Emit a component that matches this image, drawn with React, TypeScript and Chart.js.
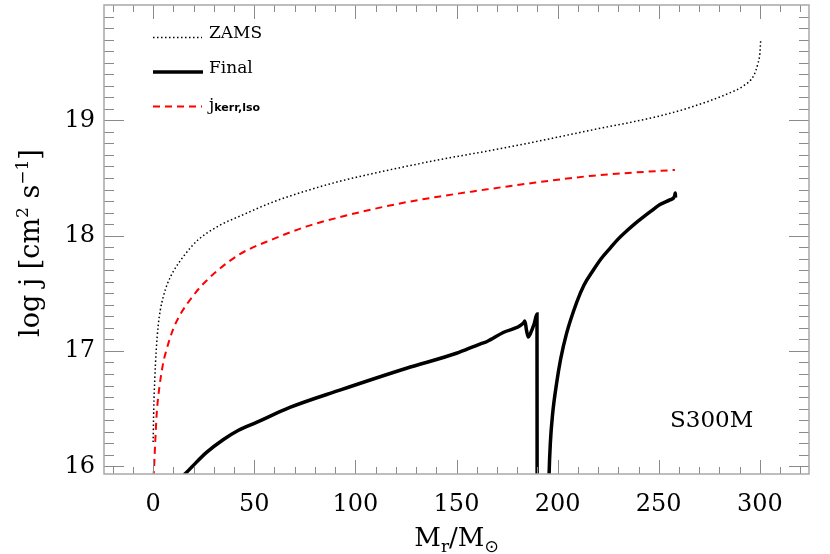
import React, { useEffect, useRef } from 'react';
import { Chart, registerables } from 'chart.js';

Chart.register(...registerables);

// ---- data ----
const zamsMass = [0, 0.3, 0.8, 1.5, 2.5, 3.5, 5, 7, 10, 15, 22, 33, 43, 59, 76, 92, 109, 125, 142, 161, 185, 218, 251, 267, 284, 292, 297, 299, 300, 300.4];
const zamsLogJ = [16.21, 16.5, 16.75, 17.0, 17.22, 17.35, 17.47, 17.58, 17.69, 17.82, 17.96, 18.09, 18.17, 18.29, 18.39, 18.47, 18.54, 18.6, 18.66, 18.72, 18.8, 18.92, 19.04, 19.12, 19.23, 19.3, 19.39, 19.49, 19.58, 19.69];

const kerrMass = [0.0, 0.3, 1.0, 1.7, 2.5, 4.9, 6.6, 9.9, 13.2, 18.1, 23.1, 26.4, 31.3, 42.9, 59.3, 75.9, 92.3, 108.8, 125.3, 141.8, 160.7, 184.7, 217.6, 258];
const kerrLogJ = [15.9, 15.94, 16.2, 16.44, 16.6, 16.89, 17.01, 17.19, 17.31, 17.44, 17.55, 17.61, 17.69, 17.84, 17.97, 18.08, 18.16, 18.23, 18.29, 18.34, 18.39, 18.45, 18.52, 18.57];

const finalMass = [14.0, 20, 26.4, 34.6, 42, 51.1, 67.6, 92.3, 125.3, 150, 161.6, 164.9, 173.1, 183.0, 183.8, 184.6, 185.5, 186.5, 188.5, 189.8, 189.9, 190, 195.3, 195.8, 196.4, 197.5, 199.5, 201.5, 204.4, 209.4, 213, 217.6, 221.5, 225.9, 229.9, 234.1, 238, 242.3, 246, 250.6, 255.5, 257.8, 258.2, 258.3];
const finalLogJ = [15.9, 16.01, 16.12, 16.23, 16.31, 16.38, 16.51, 16.66, 16.85, 16.98, 17.06, 17.08, 17.16, 17.24, 17.26, 17.18, 17.12, 17.15, 17.24, 17.32, 15.0, null, 15.5, 15.94, 16.2, 16.45, 16.72, 16.93, 17.15, 17.42, 17.57, 17.7, 17.8, 17.89, 17.97, 18.04, 18.1, 18.16, 18.21, 18.27, 18.31, 18.34, 18.37, 18.33];

const xTickLabels = [0, 50, 100, 150, 200, 250, 300];
const yTickLabels = [16, 17, 18, 19];

const X_MIN = -24.3;
const X_MAX = 324.3;
const Y_MIN = 15.933;
const Y_MAX = 20.0;

const SERIF = '"DejaVu Serif", serif';

function pts(xs: number[], ys: (number | null)[]) {
  return xs.map((x, i) => ({ x, y: ys[i] }));
}

type Seg = { t: string; size: number; dy?: number; font?: string; weight?: string };

function richWidth(ctx: CanvasRenderingContext2D, segs: Seg[]) {
  let w = 0;
  for (const s of segs) {
    ctx.font = `${s.weight || 'normal'} ${s.size}px ${s.font || SERIF}`;
    w += ctx.measureText(s.t).width;
  }
  return w;
}

function drawRich(ctx: CanvasRenderingContext2D, segs: Seg[], x: number, y: number, align: 'left' | 'center') {
  let cx = align === 'center' ? x - richWidth(ctx, segs) / 2 : x;
  ctx.textAlign = 'left';
  ctx.textBaseline = 'alphabetic';
  for (const s of segs) {
    ctx.font = `${s.weight || 'normal'} ${s.size}px ${s.font || SERIF}`;
    ctx.fillText(s.t, cx, y + (s.dy || 0));
    cx += ctx.measureText(s.t).width;
  }
}

const decorPlugin = {
  id: 'decor',
  afterDraw(chart: any) {
    const ctx: CanvasRenderingContext2D = chart.ctx;
    const { left, right, top, bottom } = chart.chartArea;
    const xs = chart.scales.x;
    const ys = chart.scales.y;
    ctx.save();

    // ticks (inward, mirrored)
    ctx.strokeStyle = '#8a8a8a';
    ctx.lineWidth = 1;
    ctx.beginPath();
    for (let v = -20; v <= 320; v += 10) {
      const px = Math.round(xs.getPixelForValue(v)) + 0.5;
      const len = v % 50 === 0 && v >= 0 && v <= 300 ? 14 : 7;
      ctx.moveTo(px, bottom);
      ctx.lineTo(px, bottom - len);
      ctx.moveTo(px, top);
      ctx.lineTo(px, top + len);
    }
    for (let k = 160; k < 200; k += 1) {
      const v = k / 10;
      const py = Math.round(ys.getPixelForValue(v)) + 0.5;
      const len = k % 10 === 0 ? 20 : 10;
      ctx.moveTo(left, py);
      ctx.lineTo(left + len, py);
      ctx.moveTo(right, py);
      ctx.lineTo(right - len, py);
    }
    ctx.stroke();

    // frame
    ctx.strokeStyle = '#a8a8a8';
    ctx.lineWidth = 1.5;
    ctx.strokeRect(left, top, right - left, bottom - top);

    ctx.fillStyle = '#000';

    // x title
    drawRich(ctx, [
      { t: 'M', size: 26 },
      { t: 'r', size: 17, dy: 6 },
      { t: '/M', size: 26 },
      { t: '\u2299', size: 17, dy: 6, font: '"DejaVu Sans", sans-serif' },
    ], (left + right) / 2, 546, 'center');

    // y title
    ctx.save();
    ctx.translate(39, 243);
    ctx.rotate(-Math.PI / 2);
    drawRich(ctx, [
      { t: 'log j [cm', size: 27 },
      { t: '2', size: 17, dy: -11 },
      { t: ' s', size: 27 },
      { t: '\u22121', size: 17, dy: -11 },
      { t: ']', size: 27 },
    ], 0, 0, 'center');
    ctx.restore();

    // legend
    ctx.lineCap = 'butt';
    ctx.strokeStyle = '#000';
    ctx.lineWidth = 1.5;
    ctx.setLineDash([1.5, 2.5]);
    ctx.beginPath();
    ctx.moveTo(153, 37.5);
    ctx.lineTo(202, 37.5);
    ctx.stroke();

    ctx.setLineDash([]);
    ctx.lineWidth = 3.5;
    ctx.beginPath();
    ctx.moveTo(153, 72);
    ctx.lineTo(203, 72);
    ctx.stroke();

    ctx.strokeStyle = '#ff0000';
    ctx.lineWidth = 2;
    ctx.setLineDash([7, 5]);
    ctx.beginPath();
    ctx.moveTo(153, 106.5);
    ctx.lineTo(202, 106.5);
    ctx.stroke();
    ctx.setLineDash([]);

    drawRich(ctx, [{ t: 'ZAMS', size: 17 }], 209, 38, 'left');
    drawRich(ctx, [{ t: 'Final', size: 17 }], 209, 73, 'left');
    drawRich(ctx, [
      { t: 'j', size: 17 },
      { t: 'kerr,lso', size: 11, dy: 1, weight: 'bold', font: '"DejaVu Sans", sans-serif' },
    ], 209, 110, 'left');

    // model label
    drawRich(ctx, [{ t: 'S300M', size: 23 }], 670, 427, 'left');

    ctx.restore();
  },
};

export default function App() {
  const ref = useRef<HTMLCanvasElement | null>(null);

  useEffect(() => {
    if (!ref.current) return;
    const chart = new Chart(ref.current, {
      type: 'line',
      data: {
        datasets: [
          {
            label: 'ZAMS',
            data: pts(zamsMass, zamsLogJ),
            borderColor: '#000',
            borderWidth: 1.5,
            borderDash: [1.5, 2.5],
            pointRadius: 0,
            cubicInterpolationMode: 'monotone',
            fill: false,
          },
          {
            label: 'jkerr,lso',
            data: pts(kerrMass, kerrLogJ),
            borderColor: '#ff0000',
            borderWidth: 2,
            borderDash: [7, 5],
            pointRadius: 0,
            cubicInterpolationMode: 'monotone',
            fill: false,
          },
          {
            label: 'Final',
            data: pts(finalMass, finalLogJ),
            borderColor: '#000',
            borderWidth: 3.5,
            pointRadius: 0,
            cubicInterpolationMode: 'monotone',
            spanGaps: false,
            fill: false,
          },
        ],
      },
      options: {
        animation: false,
        responsive: false,
        maintainAspectRatio: false,
        layout: { padding: { top: 5, right: 21, left: 0, bottom: 0 } },
        plugins: { legend: { display: false }, tooltip: { enabled: false }, title: { display: false } },
        scales: {
          x: {
            type: 'linear',
            min: X_MIN,
            max: X_MAX,
            grid: { display: false, drawTicks: false },
            border: { display: false },
            afterBuildTicks: (s: any) => {
              s.ticks = xTickLabels.map((v) => ({ value: v }));
            },
            afterFit: (s: any) => {
              s.height = 80;
              s.paddingLeft = 0;
              s.paddingRight = 0;
            },
            ticks: {
              color: '#000',
              font: { family: SERIF, size: 24 },
              padding: 16,
              maxRotation: 0,
              autoSkip: false,
            },
          },
          y: {
            type: 'linear',
            min: Y_MIN,
            max: Y_MAX,
            grid: { display: false, drawTicks: false },
            border: { display: false },
            afterBuildTicks: (s: any) => {
              s.ticks = yTickLabels.map((v) => ({ value: v }));
            },
            afterFit: (s: any) => {
              s.width = 104;
              s.paddingTop = 0;
              s.paddingBottom = 0;
            },
            ticks: {
              color: '#000',
              font: { family: SERIF, size: 24 },
              padding: 9,
              autoSkip: false,
            },
          },
        },
      },
      plugins: [decorPlugin],
    } as any);
    return () => chart.destroy();
  }, []);

  return (
    <div style={{ position: 'fixed', left: 0, top: 0, width: 830, height: 554, background: '#fff' }}>
      <canvas ref={ref} width={830} height={554} style={{ width: 830, height: 554, display: 'block' }} />
    </div>
  );
}
